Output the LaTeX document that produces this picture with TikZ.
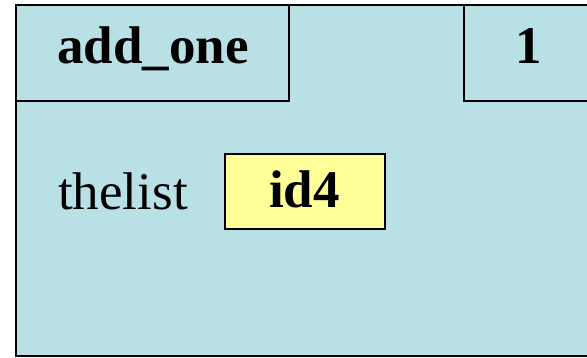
\documentclass[tikz,border=0pt]{standalone}
\usepackage{fontspec}
\setmainfont{Liberation Serif}
\definecolor{framefill}{RGB}{185,224,228}
\definecolor{idfill}{RGB}{255,255,153}
\begin{document}
\begin{tikzpicture}[x=1pt, y=-1pt, line width=2pt,
	lbl/.style = {font=\fontsize{53}{60}\selectfont, anchor=base, inner sep=0pt},
	bold/.style = {lbl, font=\fontsize{53}{60}\selectfont\bfseries}]
	\useasboundingbox (0,0) rectangle (587,357);
	\draw[fill=framefill] (16,5) rectangle (600,356);
	\draw (16,5) rectangle (289,101);
	\draw (464,5) rectangle (600,101);
	\node (fname) [bold] at (153,63) {add\_one};
	\node (lineno) [bold] at (529,63) {1};
	\node (var) [lbl] at (123,209) {thelist};
	\node (val) [draw, fill=idfill, minimum width=160pt, minimum height=75pt, inner sep=0pt] at (304.5,191) {};
	\node (valtxt) [bold] at (val.center |- 0,207) {id4};
\end{tikzpicture}
\end{document}
